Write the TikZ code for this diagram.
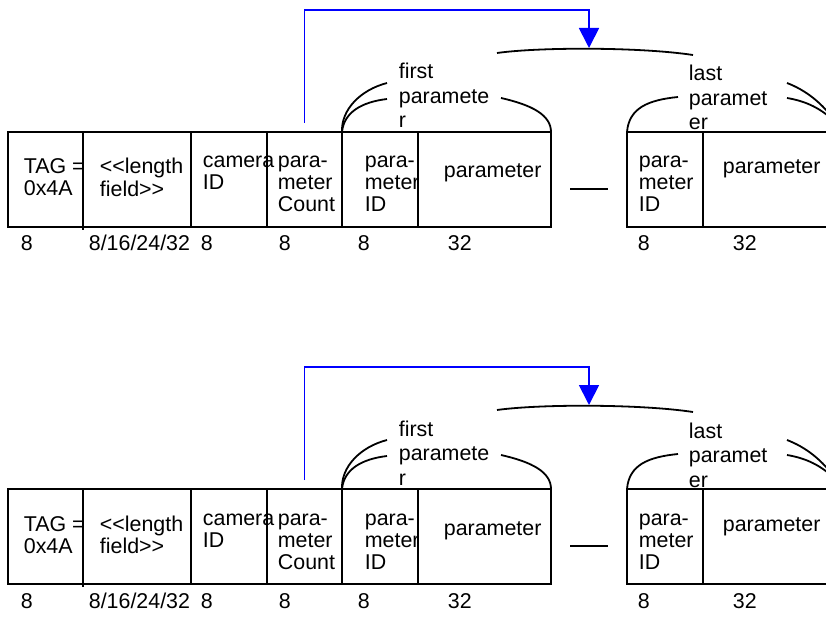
\documentclass[tikz,border=0pt]{standalone}
\usepackage{fontspec}
\setmainfont{Liberation Sans}
\usepackage{tikz}
\usetikzlibrary{arrows.meta}
\newcommand{\cellrows}[1]{\begin{tabular}[t]{@{}l@{}}#1\end{tabular}}

\begin{document}
\begin{tikzpicture}[x=1pt,y=-1pt,line width=1.8pt,
  font=\fontsize{21.4}{22}\selectfont,
  cell/.style={draw,anchor=north west,minimum height=95pt,inner sep=0pt,outer sep=0pt},
  txt/.style={anchor=base west,inner sep=0pt},
  flow/.style={blue,-{Triangle[length=20pt,width=20pt]}}]
\useasboundingbox (0,0) rectangle (826,617);
\clip (0,0) rectangle (826,617);
\foreach \dy/\k in {0/a,357/b}{
\begin{scope}[yshift=-\dy pt]
% the fields
\node[cell,minimum width=75pt] (tag\k) at (8,132) {};
\node[cell,minimum width=108pt] (len\k) at (83,132) {};
\node[cell,minimum width=76pt] (cam\k) at (191,132) {};
\node[cell,minimum width=75pt] (cnt\k) at (267,132) {};
\node[cell,minimum width=76pt] (pid\k) at (342,132) {};
\node[cell,minimum width=133pt] (par\k) at (418,132) {};
\node[cell,minimum width=76pt] (pidl\k) at (627,132) {};
\node[cell,minimum width=140pt] (parl\k) at (703,132) {};
\draw (tag\k.south east) -- ++(0,3);
\node[txt] (tagt\k) at (23,174) {\cellrows{TAG =\\0x4A}};
\node[txt] (lent\k) at (99,174) {\cellrows{{<}{<}length\\field{>}{>}}};
\node[txt] (camt\k) at (202,168) {\cellrows{camera\\ID}};
\node[txt] (cntt\k) at (277,168) {\cellrows{para-\\meter\\Count}};
\node[txt] (pidt\k) at (364,168) {\cellrows{para-\\meter\\ID}};
\node[txt] (part\k) at (443,178) {parameter};
\node[txt] (pidlt\k) at (638,168) {\cellrows{para-\\meter\\ID}};
\node[txt] (parlt\k) at (722,174) {parameter};
% widths
\foreach \x/\t [count=\j] in {20/8,88/{8/16/24/32},200/8,278/8,357/8,447/32,637/8,732/32}
  \node[txt] (w\k\j) at (\x,251) {\t};
% braces
\node[txt] (first\k) at (398,79) {\cellrows{first\\[2.5pt]paramete\\[2.5pt]r}};
\node[txt] (last\k) at (688,81) {\cellrows{last\\[2.5pt]paramet\\[2.5pt]er}};
\draw (pid\k.north west) .. controls (341,110) and (360,90) .. (387,83);
\draw (pid\k.north west) .. controls (344,112) and (362,102) .. (387,99);
\draw (501,98) .. controls (532,105) and (551,115) .. (par\k.north east);
\draw (497,53) .. controls (540,47) and (640,47) .. (693,55);
\draw (pidl\k.north west) .. controls (629,108) and (648,100) .. (678,97);
\draw (787,98) .. controls (805,101) and (822,108) .. (838,125);
\draw (787,83) .. controls (805,90) and (822,102) .. (838,125);
\draw ([xshift=19pt,yshift=-9.5pt]par\k.east) -- ([xshift=-19pt,yshift=-9.5pt]pidl\k.west);
% count points at the parameters
\coordinate (turn\k) at (589,10);
\coordinate (tip\k) at (589,48);
\draw[flow] ([yshift=9pt]cnt\k.north) |- (turn\k) -- (tip\k);
\end{scope}}
\end{tikzpicture}
\end{document}
